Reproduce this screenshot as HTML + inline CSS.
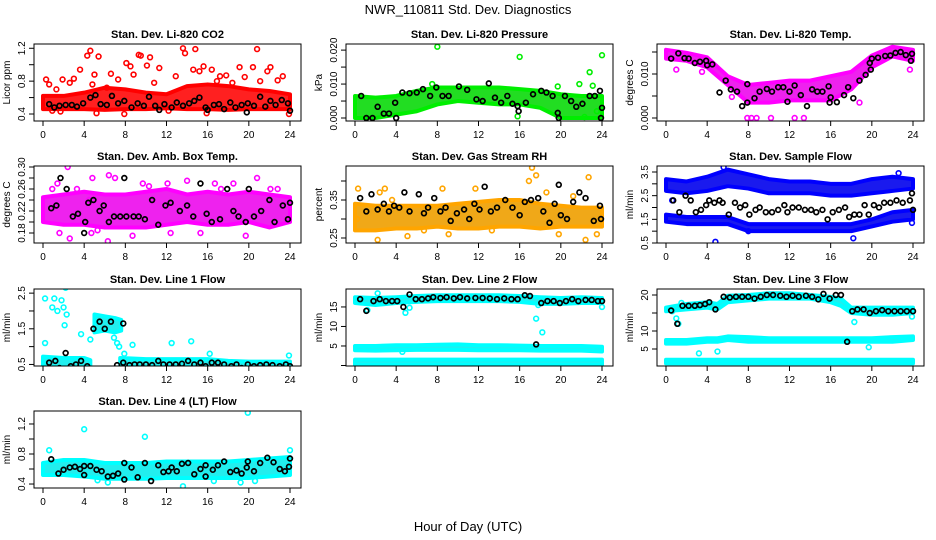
<!DOCTYPE html>
<html><head><meta charset="utf-8"><style>
html,body{margin:0;padding:0;background:#fff}
svg{display:block;font-family:"Liberation Sans",sans-serif}
</style></head><body>
<svg id="chart" width="936" height="540" viewBox="0 0 936 540">
<rect width="936" height="540" fill="#fff"/>
<text x="468" y="14" text-anchor="middle" font-size="13">NWR_110811  Std. Dev. Diagnostics</text>
<text x="468" y="531" text-anchor="middle" font-size="13">Hour of Day (UTC)</text>
</svg>
<script>
const H = [0,2,4,6,8,10,12,14,16,18,20,22,24];
// P1 CO2
const co2Lo = [0.46,0.46,0.46,0.45,0.46,0.46,0.47,0.46,0.46,0.45,0.46,0.46,0.46];
const co2Hi = [0.62,0.62,0.66,0.72,0.70,0.66,0.64,0.74,0.76,0.74,0.70,0.68,0.64];
const co2Out = [[0.3,0.82],[0.6,0.76],[1.3,0.7],[1.9,0.82],[2.6,0.78],[3.0,0.83],[3.6,0.94],[4.3,1.11],[4.6,1.17],[5.0,0.88],[5.4,1.1],[6.6,0.89],[7.3,0.82],[8.1,1.02],[8.5,0.98],[9.3,1.12],[9.5,1.11],[10.1,0.99],[10.4,1.09],[10.8,0.78],[11.3,0.96],[12.9,0.86],[13.6,1.2],[13.8,1.14],[14.6,0.94],[14.8,1.19],[15.2,0.92],[15.6,0.98],[16.4,0.94],[17.2,0.86],[17.8,0.87],[19.1,0.97],[19.6,0.85],[20.4,0.97],[20.8,1.19],[21.1,0.8],[21.8,0.92],[22.1,0.97],[22.8,0.81],[23.3,0.86],[23.9,0.4],[0.9,0.44],[1.7,0.43],[5.2,0.41],[7.9,0.4],[15.9,0.41],[12.2,0.44],[8.8,0.88],[4.8,0.76],[6.2,0.72],[16.9,0.8],[18.4,0.78]];
const co2Blk = [[0.6,0.52],[1.1,0.48],[1.6,0.5],[2.2,0.51],[2.8,0.51],[3.3,0.49],[3.9,0.53],[4.6,0.6],[5.1,0.63],[5.6,0.52],[6.2,0.51],[6.7,0.62],[7.3,0.53],[7.9,0.56],[8.6,0.48],[9.2,0.53],[9.8,0.5],[10.3,0.61],[10.9,0.5],[11.3,0.45],[11.8,0.52],[12.5,0.48],[13.0,0.54],[13.6,0.5],[14.2,0.53],[14.7,0.56],[15.2,0.6],[15.8,0.48],[16.0,0.45],[16.6,0.51],[17.1,0.52],[17.6,0.46],[18.2,0.54],[18.7,0.48],[19.3,0.51],[19.8,0.42],[19.9,0.53],[20.5,0.5],[21.1,0.61],[21.6,0.49],[22.1,0.56],[22.6,0.51],[23.2,0.57],[23.8,0.53],[24,0.44]];
// P2 Pressure
const prLo = [0,0,0.001,0.002,0.004,0.005,0.0045,0.004,0.004,0.003,0,0,0];
const prHi = [0.0065,0.006,0.0065,0.008,0.009,0.009,0.009,0.009,0.0085,0.008,0.007,0.0065,0.0065];
const prOut = [[8,0.021],[16,0.018],[24,0.0185],[22.8,0.0135],[23.1,0.0095],[21.8,0.01],[19.7,0.0093],[7.5,0.01],[15.8,0.0005],[22.3,0.0003],[23.5,0.002]];
const prBlk = [[0.6,0.0065],[1.1,0],[1.7,0],[2.2,0.0033],[2.8,0.0013],[3.3,0.0013],[3.9,0.0045],[4,0],[4.6,0.0075],[5.3,0.0073],[6,0.0075],[6.6,0.0085],[7.3,0.0065],[7.9,0.009],[8.5,0.0065],[9.1,0.0065],[10.1,0.0093],[10.9,0.0083],[11.8,0.0055],[12.4,0.005],[13,0.0102],[13.6,0.006],[14.2,0.0045],[14.8,0.0065],[15.3,0.0042],[15.8,0.0035],[15.9,0.002],[16.6,0.0045],[17.3,0.007],[18.1,0.008],[18.6,0.0075],[19.2,0.0065],[19.7,0.0015],[19.8,0],[20.4,0.0065],[21,0.005],[21.5,0.0033],[22.1,0.0042],[22.8,0.0065],[23.3,0.0065],[23.8,0.008],[24,0.003],[23.9,0]];
// P3 Li-820 temp
const ltLo = [0.0135,0.013,0.0115,0.0075,0.0035,0.0035,0.004,0.004,0.004,0.0065,0.0115,0.014,0.013];
const ltHi = [0.0155,0.0148,0.0138,0.0095,0.0075,0.008,0.0085,0.0085,0.0095,0.0105,0.0142,0.0162,0.0155];
const ltOut = [[7.9,0],[8.3,0],[8.8,0],[10.2,0],[12.5,0],[13.4,0],[1.0,0.011],[3.5,0.0105],[6.4,0.0048],[18.8,0.0035],[23.7,0.011]];
const ltBlk = [[0.5,0.0135],[1.2,0.0147],[1.8,0.0136],[2.2,0.0135],[2.8,0.0125],[3.3,0.0128],[3.9,0.013],[4.0,0.012],[4.5,0.0122],[5.2,0.0058],[5.8,0.0085],[6.3,0.0065],[6.9,0.006],[7.4,0.0027],[7.9,0.0077],[7.9,0.0035],[8.6,0.0045],[9.1,0.006],[9.8,0.0066],[10.3,0.006],[10.9,0.007],[11.4,0.007],[11.8,0.0037],[12.0,0.006],[12.5,0.0074],[13.1,0.0052],[13.7,0.0027],[14.2,0.0065],[14.7,0.006],[15.2,0.006],[15.8,0.0072],[15.9,0.0035],[16.0,0.0047],[16.6,0.0036],[17.3,0.0052],[17.7,0.007],[18.2,0.0045],[18.8,0.0085],[19.4,0.0098],[19.8,0.0125],[19.9,0.011],[20.0,0.0135],[20.6,0.0137],[21.3,0.0141],[21.8,0.0142],[22.3,0.0148],[22.8,0.015],[23.3,0.0143],[23.8,0.013],[23.9,0.0146]];
// P4 Amb box temp
const abLo = [0.2,0.195,0.195,0.19,0.19,0.19,0.195,0.2,0.195,0.195,0.2,0.19,0.2];
const abHi = [0.245,0.25,0.255,0.25,0.25,0.255,0.26,0.25,0.255,0.25,0.255,0.25,0.245];
const abOut = [[0.9,0.26],[1.4,0.27],[1.6,0.18],[2.4,0.3],[2.6,0.17],[3.3,0.26],[4.5,0.24],[4.8,0.28],[4.7,0.18],[6.3,0.165],[6.4,0.285],[7.0,0.28],[8.7,0.175],[10.3,0.265],[12.1,0.27],[12.4,0.18],[14.0,0.275],[15.3,0.18],[16.7,0.27],[17.3,0.26],[18.5,0.27],[19.7,0.175],[20.8,0.28],[22.1,0.26],[22.8,0.26],[5.3,0.185],[9.7,0.27]];
const abBlk = [[0.8,0.225],[1.3,0.23],[1.7,0.28],[2.3,0.26],[2.9,0.21],[3.4,0.215],[4.0,0.18],[4.1,0.2],[4.4,0.235],[4.9,0.24],[5.5,0.22],[5.9,0.23],[6.4,0.2],[6.9,0.21],[7.5,0.21],[7.9,0.28],[8.1,0.21],[8.8,0.21],[9.3,0.21],[9.9,0.205],[10.6,0.24],[11.2,0.195],[11.9,0.23],[12.4,0.235],[13.3,0.22],[14.0,0.23],[14.6,0.21],[15.3,0.27],[15.9,0.215],[16.4,0.2],[17.2,0.205],[17.9,0.26],[18.5,0.22],[19.0,0.21],[19.7,0.2],[20.0,0.26],[20.5,0.21],[21.2,0.22],[22.0,0.24],[22.5,0.2],[23.3,0.23],[23.8,0.205],[24,0.235]];
// P5 Gas stream RH
const rhLo = [0.27,0.27,0.275,0.275,0.28,0.275,0.275,0.28,0.28,0.275,0.28,0.28,0.28];
const rhHi = [0.34,0.335,0.335,0.335,0.335,0.34,0.345,0.35,0.35,0.34,0.335,0.33,0.33];
const rhOut = [[0.2,0.3],[0.3,0.38],[2.2,0.245],[2.4,0.37],[2.9,0.38],[3.6,0.35],[5.1,0.255],[6.7,0.27],[8.5,0.38],[9.1,0.26],[11.7,0.38],[13.3,0.27],[16.9,0.4],[17.2,0.435],[17.6,0.415],[19.8,0.26],[22.4,0.245],[22.7,0.41],[23.5,0.26],[18.6,0.37],[21.2,0.36]];
const rhBlk = [[0.5,0.355],[1.1,0.32],[1.6,0.365],[2.2,0.325],[2.8,0.34],[3.3,0.32],[3.8,0.335],[4.3,0.33],[4.8,0.37],[5.3,0.32],[6.2,0.365],[6.7,0.315],[7.1,0.33],[7.7,0.355],[8.3,0.32],[8.8,0.33],[9.3,0.295],[9.9,0.315],[10.6,0.325],[11.1,0.3],[11.6,0.34],[12.1,0.325],[12.6,0.385],[13.2,0.32],[13.8,0.33],[14.6,0.35],[15.3,0.33],[16.0,0.31],[16.5,0.345],[17.1,0.35],[17.8,0.355],[18.3,0.32],[18.9,0.29],[19.4,0.34],[19.8,0.39],[20.0,0.31],[20.6,0.3],[21.2,0.345],[21.8,0.37],[22.4,0.355],[23.2,0.295],[23.8,0.335],[23.9,0.3]];
// P6 Sample flow
const sfUpLo = [2.7,2.6,2.7,2.9,2.8,2.6,2.6,2.6,2.5,2.5,2.6,2.7,2.8];
const sfUpHi = [3.2,3.1,3.3,3.6,3.4,3.2,3.1,3.1,3.0,3.0,3.2,3.3,3.2];
const sfDnLo = [1.4,1.3,1.3,1.3,1.0,1.0,1.0,1.0,1.0,1.0,1.2,1.4,1.5];
const sfDnHi = [1.7,1.6,1.6,1.6,1.3,1.3,1.3,1.3,1.3,1.3,1.5,1.8,1.9];
const sfOut = [[4.8,0.55],[18.2,0.7],[0.6,2.3],[23.9,1.35],[8,1.0],[5.6,3.7],[22.6,3.45]];
const sfBlk = [[0.7,2.3],[1.3,1.8],[1.9,2.5],[2.4,2.3],[2.9,1.8],[3.4,1.9],[3.9,2.1],[4.2,2.3],[4.7,2.2],[5.2,2.3],[5.5,2.2],[6.1,1.7],[6.7,2.2],[7.2,2.0],[7.7,2.1],[8.1,1.7],[8.7,1.9],[9.1,2.0],[9.7,1.8],[10.3,1.8],[10.9,1.9],[11.5,2.1],[11.8,1.8],[12.3,2.0],[12.9,2.0],[13.5,1.9],[14.1,1.9],[14.6,1.8],[15.2,1.9],[15.7,1.5],[16.2,1.8],[16.8,1.9],[17.4,2.0],[17.8,1.6],[18.3,1.7],[18.8,1.7],[19.3,2.1],[19.7,1.7],[20.2,2.1],[20.7,2.0],[21.2,2.2],[21.8,2.2],[22.4,2.3],[23.0,2.2],[23.7,2.3],[23.9,2.6],[24,1.9]];
// P7 Line 1 flow
const l1aH = [0,2,4,4.6];   const l1aLo = [0.45,0.42,0.42,0.42]; const l1aHi = [0.72,0.68,0.68,0.62];
const l1bH = [5,6,7,7.6];   const l1bLo = [1.4,1.45,1.4,1.45];   const l1bHi = [1.9,1.85,1.8,1.75];
const l1cH = [7.5,10,12,14,16,18,20,22,24]; const l1cLo = [0.42,0.42,0.42,0.42,0.4,0.4,0.4,0.4,0.4]; const l1cHi = [0.68,0.65,0.65,0.65,0.65,0.6,0.58,0.58,0.58];
const l1Out = [[0.2,2.35],[0.2,1.1],[0.9,2.1],[1.1,2.35],[1.4,2.0],[1.8,2.3],[2.0,2.1],[2.1,1.6],[2.2,2.65],[2.3,1.9],[3.7,1.35],[4.6,1.2],[6.9,1.25],[7.2,1.1],[7.4,1.0],[7.9,0.8],[8.7,1.05],[12.5,1.1],[14.4,1.15],[16.2,0.8],[23.9,0.75],[4.3,0.4]];
const l1Blk = [[0.6,0.55],[1.2,0.6],[1.6,0.4],[2.2,0.82],[2.7,0.45],[3.2,0.5],[3.7,0.6],[3.9,0.35],[4.3,0.45],[4.9,1.5],[5.5,1.7],[6.0,1.5],[6.6,1.7],[7.2,0.48],[7.8,0.55],[7.8,1.65],[8.4,0.48],[8.9,0.5],[9.4,0.5],[10.0,0.5],[10.6,0.48],[11.2,0.6],[11.7,0.5],[12.3,0.5],[12.9,0.5],[13.5,0.52],[14.1,0.6],[14.7,0.5],[15.3,0.55],[15.8,0.45],[16.4,0.55],[17.0,0.55],[17.6,0.5],[18.3,0.45],[18.8,0.5],[19.3,0.4],[19.9,0.5],[20.5,0.45],[21.1,0.48],[21.7,0.5],[22.3,0.48],[23.0,0.45],[23.6,0.5],[24,0.45]];
// P8 Line 2 flow
const l2TopLo = [16,15.5,16,16.3,16.5,16.5,16.5,16.5,16.3,15.8,15.8,16,16];
const l2TopHi = [17.5,17.3,17.5,17.8,18,18,18,18,17.8,17.5,17.3,17.5,17.3];
const l2MidLo = [3.9,3.8,3.9,4.0,4.0,4.0,3.9,3.9,3.9,3.8,3.8,3.8,3.6];
const l2MidHi = [5.0,5.0,5.2,5.2,5.3,5.4,5.2,5.2,5.1,5.0,5.0,5.0,4.8];
const l2BotLo = [0.2,0.2,0.2,0.2,0.2,0.2,0.2,0.2,0.2,0.2,0.2,0.2,0.2];
const l2BotHi = [1.5,1.5,1.5,1.5,1.5,1.5,1.5,1.5,1.5,1.5,1.5,1.5,1.5];
const l2Out = [[0.6,16.8],[1.2,14.2],[2.2,18.5],[4.9,13.5],[5.3,14.8],[17.6,12],[18.2,8.5],[17.8,15.5],[24,15],[4.6,3.5]];
const l2Blk = [[0.5,17],[1.1,14],[1.8,16.5],[2.4,17],[3.0,16.5],[3.6,16.5],[4.1,16.5],[4.7,15],[5.3,18.2],[5.9,17],[6.5,17],[7.1,17.2],[7.6,17.5],[8.3,17.3],[8.9,17.5],[9.6,17.2],[10.2,17.5],[10.9,17.2],[11.7,17.3],[12.4,17.3],[13.1,17.2],[13.8,17.0],[14.5,17.2],[15.2,17],[15.8,17],[16.5,18],[17.0,17.8],[17.6,5.4],[18.1,16],[18.7,16.5],[19.3,16.5],[19.9,16],[20.5,16.5],[21.1,17],[21.7,16.5],[22.4,16.8],[23.0,16.8],[23.6,16.5],[24,16.5]];
// P9 Line 3 flow
const l3H = [0,2,4,5,6,8,10,12,14,16,17,18,20,22,24];
const l3TopLo = [15.5,16,16.5,16,18,18.5,19,19,19,18,17,15,14.5,14.5,15];
const l3TopHi = [16.5,17.5,18,17.5,19.8,20,20.5,20.5,20,19.5,19,16.5,16.5,16.5,16.5];
const l3MidLo = [6.5,6.5,7,7,7.5,7,7,7,7,7,7,7,7,7,7.5];
const l3MidHi = [7.5,7.5,8,8,8.5,8.3,8,8,8,8,8,8,8,8.3,8.5];
const l3BotLo = [1,1,1,1,1,1,1,1,1,1,1,1,1,1,1];
const l3BotHi = [2,2,2,2,2,2,2,2,2,2,2,2,2,2,2];
const l3Out = [[0.6,15.5],[1.0,13.5],[1.2,12],[3.2,3.8],[5.0,4.3],[18.3,12.5],[19.7,5.5],[23.9,14],[1.5,17.8]];
const l3Blk = [[0.5,15.7],[1.1,12],[1.6,17],[2.2,17],[2.8,17],[3.3,17.2],[3.8,17.5],[4.2,18],[4.8,16],[5.6,19.5],[6.2,19.3],[6.8,19.5],[7.4,19.5],[8.0,19.5],[8.6,19],[9.2,19.5],[9.8,20],[10.4,20],[11.1,19.8],[11.7,19.5],[12.3,19.8],[12.9,19.5],[13.6,19.8],[14.2,19.5],[14.8,18.8],[15.3,20.3],[15.9,19],[16.5,20],[17.0,20],[17.6,7],[18.1,15.5],[18.6,16],[19.2,16],[19.8,15],[20.4,15.5],[21.0,15.8],[21.6,15.5],[22.2,15.5],[22.8,15.5],[23.4,15.5],[24,15.5]];
// P10 Line 4 flow
const l4Lo = [0.52,0.52,0.5,0.47,0.47,0.47,0.48,0.48,0.48,0.48,0.48,0.5,0.52];
const l4Hi = [0.68,0.72,0.72,0.68,0.68,0.68,0.7,0.7,0.7,0.7,0.72,0.74,0.76];
const l4Out = [[0.6,0.85],[4.0,1.13],[9.9,1.03],[19.9,1.35],[13.6,0.37],[24,0.85],[5.3,0.45],[6.3,0.42],[16.6,0.44],[20.6,0.44],[19.2,0.42]];
const l4Blk = [[0.8,0.73],[1.5,0.54],[2.0,0.59],[2.6,0.62],[3.1,0.63],[3.6,0.6],[4.0,0.64],[4.0,0.52],[4.6,0.64],[5.2,0.59],[5.7,0.57],[6.3,0.5],[6.8,0.51],[7.3,0.54],[7.9,0.46],[7.9,0.68],[8.6,0.62],[9.2,0.49],[9.9,0.68],[10.5,0.44],[11.2,0.65],[11.7,0.56],[12.2,0.57],[12.5,0.62],[13.0,0.57],[13.5,0.67],[14.1,0.68],[14.7,0.53],[15.3,0.6],[15.8,0.65],[15.8,0.5],[16.5,0.59],[17.0,0.65],[17.6,0.7],[18.2,0.56],[18.8,0.58],[19.3,0.54],[19.8,0.62],[19.9,0.7],[20.5,0.57],[21.1,0.68],[21.8,0.75],[22.4,0.69],[23.0,0.6],[23.5,0.57],[23.9,0.63],[24,0.74]];
const xTicks = [0,4,8,12,16,20,24];

const NS = 'http://www.w3.org/2000/svg';
const svg = document.getElementById('chart');
function mk(tag, attrs, parent){const e=document.createElementNS(NS,tag);for(const k in attrs)e.setAttribute(k,attrs[k]);(parent||svg).appendChild(e);return e;}

const colX=[34,346,657], rowY=[44,166,289,411], W=267, PH=77;
const panels = [
 {t:'Stan. Dev. Li-820 CO2',yl:'Licor ppm',c:0,r:0,d:[0.315,1.252],col:'#ff0000',band:'#ff2020',bands:[[H,co2Lo,co2Hi]],out:co2Out,blk:co2Blk,yt:[0.4,0.6,0.8,1.0,1.2],lab:['0.4',null,'0.8',null,'1.2']},
 {t:'Stan. Dev. Li-820 Pressure',yl:'kPa',c:1,r:0,d:[-0.00088,0.0218],col:'#00ee00',band:'#22dd22',bands:[[H,prLo,prHi]],out:prOut,blk:prBlk,yt:[0,0.005,0.01,0.015,0.02],lab:['0.000',null,'0.010',null,'0.020']},
 {t:'Stan. Dev. Li-820 Temp.',yl:'degrees C',c:2,r:0,d:[-0.00068,0.01682],col:'#ff00ff',band:'#ee22ee',bands:[[H,ltLo,ltHi]],out:ltOut,blk:ltBlk,yt:[0,0.005,0.01,0.015],lab:['0.000',null,'0.010',null]},
 {t:'Stan. Dev. Amb. Box Temp.',yl:'degrees C',c:0,r:1,d:[0.1618,0.3018],col:'#ff00ff',band:'#ee22ee',bands:[[H,abLo,abHi]],out:abOut,blk:abBlk,yt:[0.18,0.2,0.22,0.24,0.26,0.28,0.3],lab:['0.18',null,'0.22',null,'0.26',null,'0.30']},
 {t:'Stan. Dev. Gas Stream RH',yl:'percent',c:1,r:1,d:[0.2368,0.4395],col:'#ffa500',band:'#f0a818',bands:[[H,rhLo,rhHi]],out:rhOut,blk:rhBlk,yt:[0.25,0.3,0.35,0.4],lab:['0.25',null,'0.35',null]},
 {t:'Stan. Dev. Sample Flow',yl:'ml/min',c:2,r:1,d:[0.5,3.753],col:'#0000ff',band:'#1a1aee',bands:[[H,sfUpLo,sfUpHi],[H,sfDnLo,sfDnHi]],out:sfOut,blk:sfBlk,yt:[0.5,1,1.5,2,2.5,3,3.5],lab:['0.5',null,'1.5',null,'2.5',null,'3.5']},
 {t:'Stan. Dev. Line 1 Flow',yl:'ml/min',c:0,r:2,d:[0.4565,2.616],col:'#00ffff',band:'#22eeee',bands:[[l1aH,l1aLo,l1aHi],[l1bH,l1bLo,l1bHi],[l1cH,l1cLo,l1cHi]],out:l1Out,blk:l1Blk,yt:[0.5,1,1.5,2,2.5],lab:['0.5',null,'1.5',null,'2.5']},
 {t:'Stan. Dev. Line 2 Flow',yl:'ml/min',c:1,r:2,d:[-0.13,19.6],col:'#00ffff',band:'#22eeee',bands:[[H,l2TopLo,l2TopHi],[H,l2MidLo,l2MidHi],[H,l2BotLo,l2BotHi]],out:l2Out,blk:l2Blk,yt:[0,5,10,15],lab:[null,'5','10','15']},
 {t:'Stan. Dev. Line 3 Flow',yl:'ml/min',c:2,r:2,d:[0.28,21.67],col:'#00ffff',band:'#22eeee',bands:[[l3H,l3TopLo,l3TopHi],[l3H,l3MidLo,l3MidHi],[l3H,l3BotLo,l3BotHi]],out:l3Out,blk:l3Blk,yt:[5,10,15,20],lab:['5','10',null,'20']},
 {t:'Stan. Dev. Line 4 (LT) Flow',yl:'ml/min',c:0,r:3,d:[0.347,1.373],col:'#00ffff',band:'#22eeee',bands:[[H,l4Lo,l4Hi]],out:l4Out,blk:l4Blk,yt:[0.4,0.6,0.8,1.0,1.2],lab:['0.4',null,'0.8',null,'1.2']}
];

panels.forEach((p,i)=>{
  const L=colX[p.c], T=rowY[p.r], B=T+PH;
  const xs=h=>L+9+h*(247/24);
  const ys=v=>B-(v-p.d[0])/(p.d[1]-p.d[0])*PH;
  const g=mk('g',{});
  
  
  const clip=mk('clipPath',{id:'clip'+i},g);
  mk('rect',{x:L,y:T,width:W,height:PH},clip);
  const title=mk('text',{x:L+W/2,y:T-6,'text-anchor':'middle','font-size':11,'font-weight':'bold'},g);
  title.textContent=p.t;
  
  
  const pg=mk('g',{'clip-path':'url(#clip'+i+')'},g);
  p.bands.forEach(b=>{
    const [hh,lo,hi]=b;
    let pts=hh.map((h,k)=>xs(h)+','+ys(hi[k]));
    pts=pts.concat(hh.map((h,k)=>xs(h)+','+ys(lo[k])).reverse());
    const poly=mk('polygon',{points:pts.join(' '),fill:p.band,stroke:p.col,'stroke-width':4,'stroke-linejoin':'round'},pg);
    
    
  });
  p.out.forEach(pt=>{
    const c=mk('circle',{cx:xs(pt[0]),cy:ys(pt[1]),r:2.4,fill:'none',stroke:p.col,'stroke-width':1.6},pg);
    
    
  });
  p.blk.forEach(pt=>{
    const c=mk('circle',{cx:xs(pt[0]),cy:ys(pt[1]),r:2.4,fill:'none',stroke:'#000','stroke-width':1.7},pg);
    
    
  });
  mk('rect',{x:L,y:T,width:W,height:PH,fill:'none',stroke:'#000','stroke-width':1},g);
  // x axis
  mk('line',{x1:xs(0),x2:xs(24),y1:B,y2:B,stroke:'#000'},g);
  xTicks.forEach(t=>{
    mk('line',{x1:xs(t),x2:xs(t),y1:B,y2:B+5,stroke:'#000'},g);
    const tx=mk('text',{x:xs(t),y:B+17,'text-anchor':'middle','font-size':10},g);
    tx.textContent=t;
    
    
  });
  // y axis
  mk('line',{x1:L,x2:L,y1:ys(p.yt[0]),y2:ys(p.yt[p.yt.length-1]),stroke:'#000'},g);
  p.yt.forEach((t,k)=>{
    mk('line',{x1:L-5,x2:L,y1:ys(t),y2:ys(t),stroke:'#000'},g);
    if(p.lab[k]!==null){
      const tx=mk('text',{x:L-9,y:ys(t),'text-anchor':'middle','font-size':10,transform:'rotate(-90 '+(L-9)+' '+ys(t)+')'},g);
      tx.textContent=p.lab[k];
      
      
    }
  });
  const yt=mk('text',{x:L-24,y:T+PH/2,'text-anchor':'middle','font-size':10,transform:'rotate(-90 '+(L-24)+' '+(T+PH/2)+')'},g);
  yt.textContent=p.yl;
  
  
});
</script>
</body></html>
